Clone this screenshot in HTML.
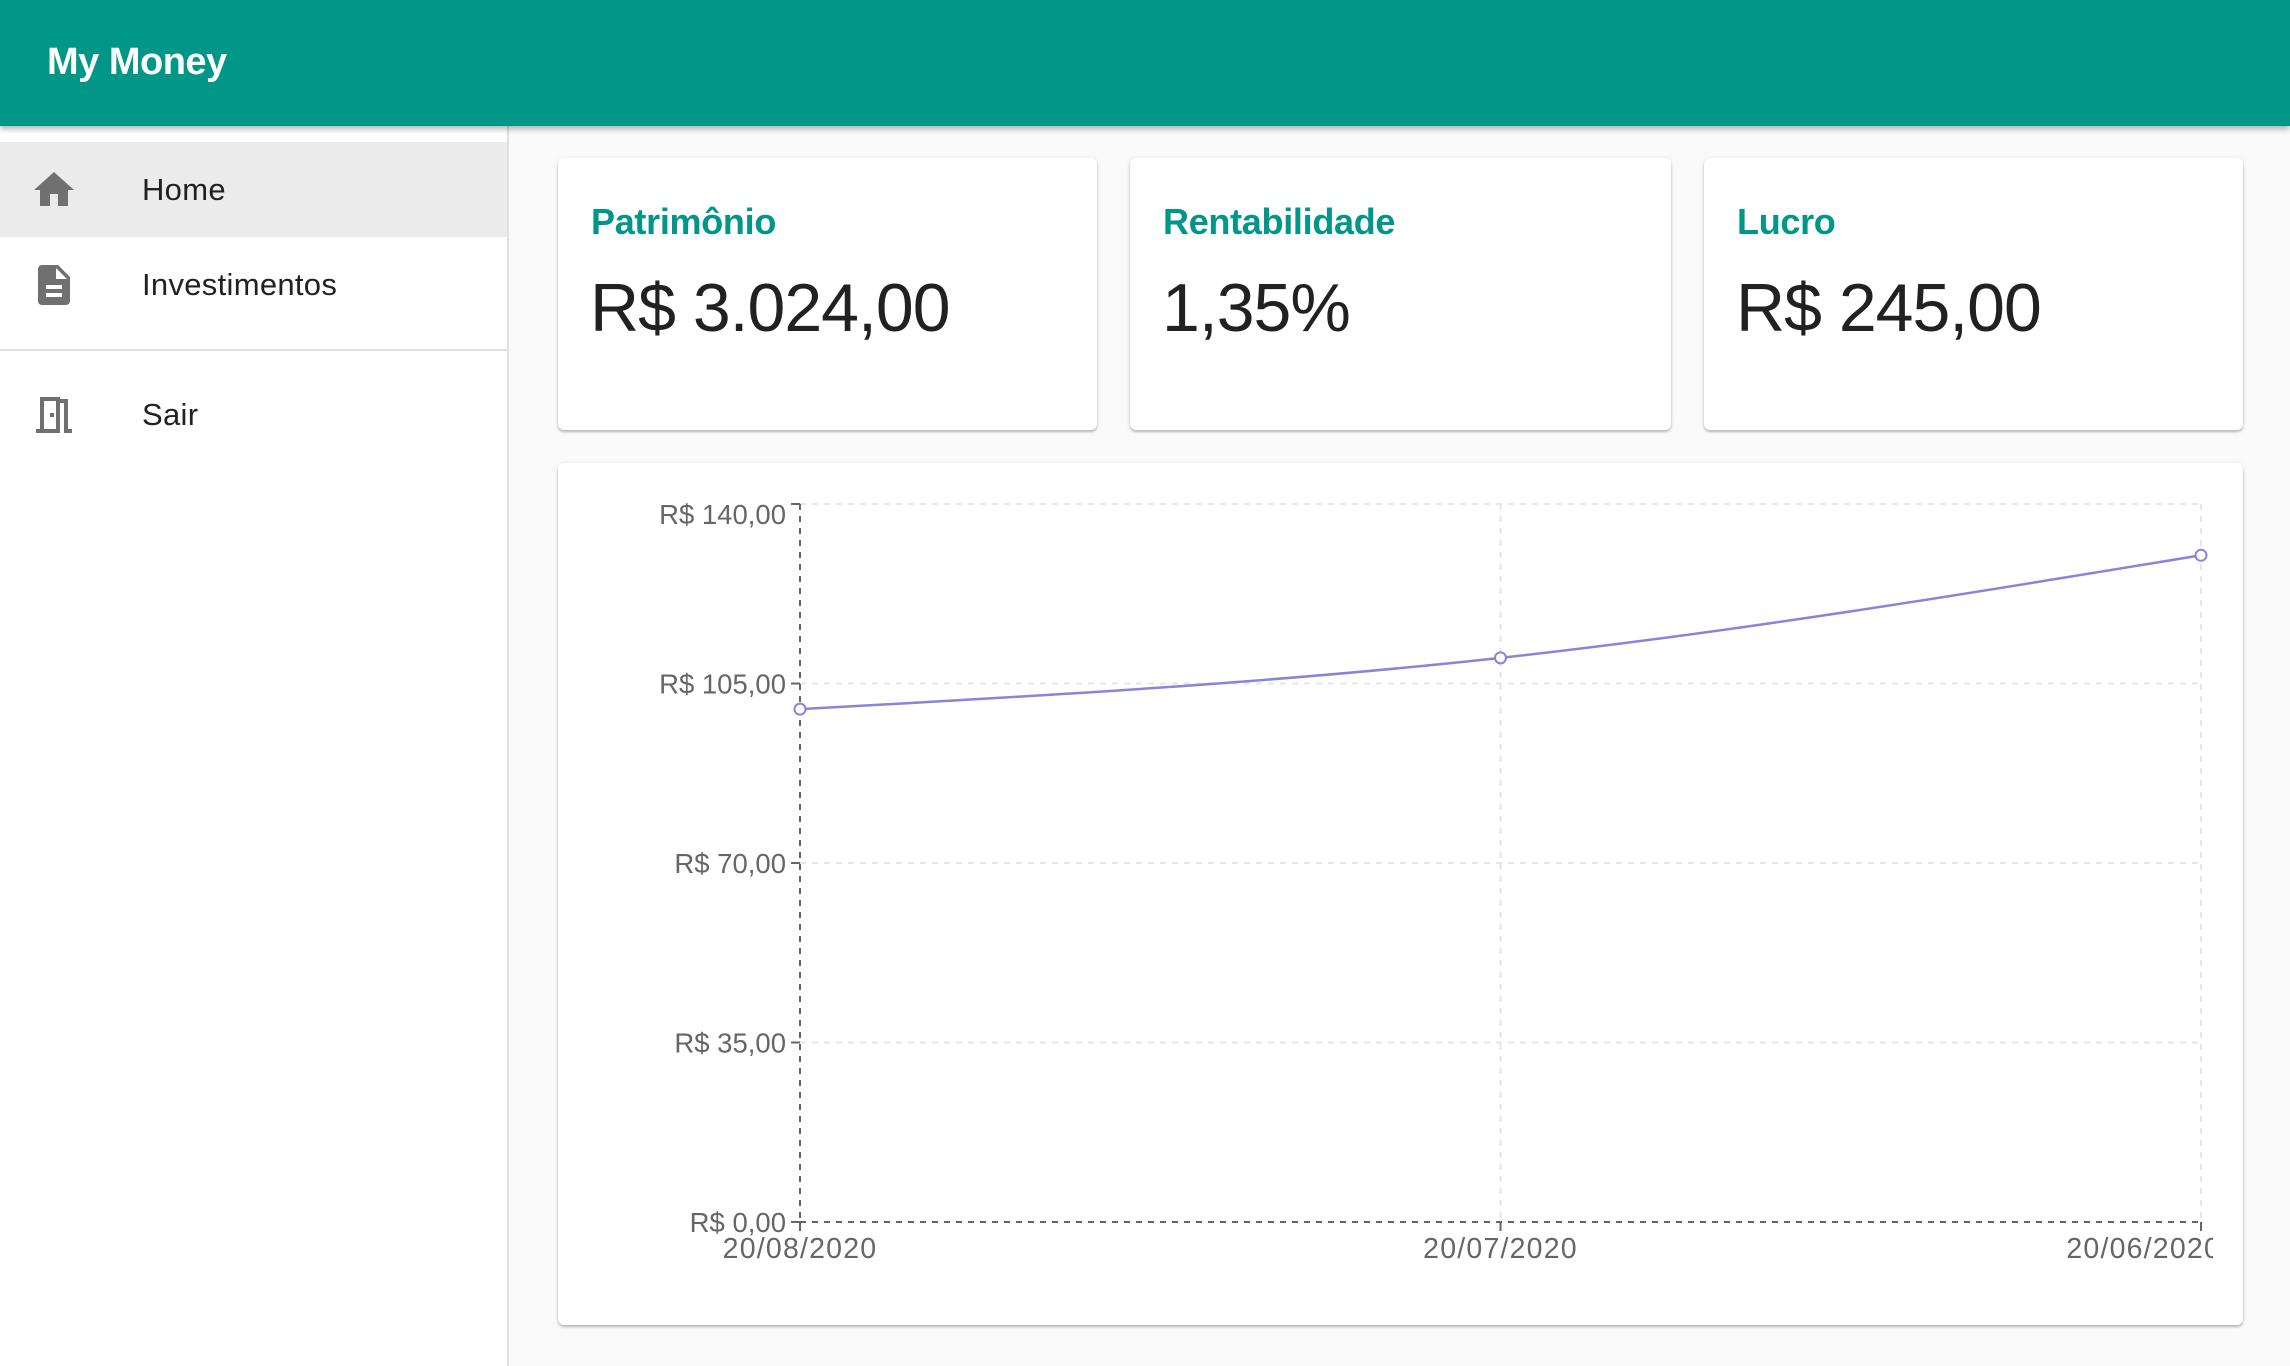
<!DOCTYPE html>
<html><head><meta charset="utf-8"><style>
*{margin:0;padding:0;box-sizing:border-box}
body{width:2290px;height:1366px;background:#fafafa;font-family:"Liberation Sans",Arial,sans-serif;position:relative;overflow:hidden}
.hdr{position:absolute;left:0;top:0;width:2290px;height:126px;background:#009688;box-shadow:0 3px 6px rgba(0,0,0,.3);z-index:3}
.hdr h1{position:absolute;left:47px;top:41px;font-size:38px;font-weight:bold;color:#fff;letter-spacing:-0.5px}
.side{position:absolute;left:0;top:126px;width:509px;height:1240px;background:#fff;border-right:2px solid #e0e0e0}
.item{position:absolute;left:0;width:507px;height:95px}
.item span{position:absolute;left:142px;top:30px;font-size:31px;color:#212121;letter-spacing:0.3px}
.item svg{position:absolute;left:30px;top:24px}
.card{position:absolute;background:#fff;border-radius:6px;box-shadow:0 2px 2px rgba(0,0,0,.2),0 1px 5px rgba(0,0,0,.12)}
.card .t{position:absolute;left:33px;top:43px;font-size:36px;font-weight:bold;color:#009688;letter-spacing:-0.3px}
.card .v{position:absolute;left:32px;top:111px;font-size:68px;color:#212121;letter-spacing:-1px}
</style></head><body>
<div class="hdr"><h1>My Money</h1></div>
<div class="side">
 <div class="item" style="top:16px;background:#ebebeb">
  <svg width="48" height="48" viewBox="0 0 24 24"><path d="M10 20v-6h4v6h5v-8h3L12 3 2 12h3v8z" fill="#707070"/></svg><span>Home</span></div>
 <div class="item" style="top:111px">
  <svg width="48" height="48" viewBox="0 0 24 24"><path d="M14 2H6c-1.1 0-2 .9-2 2v16c0 1.1.9 2 2 2h12c1.1 0 2-.9 2-2V8l-6-6zm2 16H8v-2h8v2zm0-4H8v-2h8v2zm-3-5V3.5L18.5 9H13z" fill="#707070"/></svg><span>Investimentos</span></div>
 <div style="position:absolute;left:0;top:223px;width:507px;height:2px;background:#e0e0e0"></div>
 <div class="item" style="top:241px">
  <svg width="48" height="48" viewBox="0 0 24 24"><path d="M19 19V4h-4V3H5v16H3v2h12V6h2v15h4v-2h-2zm-6 0H7V5h6v14zm-3-8h2v2h-2z" fill="#707070"/></svg><span>Sair</span></div>
</div>
<div class="card" style="left:558px;top:158px;width:539px;height:272px"><div class="t">Patrimônio</div><div class="v">R$ 3.024,00</div></div>
<div class="card" style="left:1130px;top:158px;width:541px;height:272px"><div class="t">Rentabilidade</div><div class="v">1,35%</div></div>
<div class="card" style="left:1704px;top:158px;width:539px;height:272px"><div class="t">Lucro</div><div class="v">R$ 245,00</div></div>
<div class="card" style="left:558px;top:463px;width:1685px;height:862px">
<svg id="chart" width="1655" height="862" style="position:absolute;left:0;top:0"></svg>
</div>
<script>
const categories=["20/08/2020","20/07/2020","20/06/2020"];
const values=[100,110,130];
const yTicks=[0,35,70,105,140];
const yLabels=["R$ 0,00","R$ 35,00","R$ 70,00","R$ 105,00","R$ 140,00"];
const yMax=140;
const L=242,R=1643,T=41,B=759;
const NS="http://www.w3.org/2000/svg";
const svg=document.getElementById('chart');
const x=i=>L+(R-L)*i/(categories.length-1);
const y=v=>B-(B-T)*v/yMax;
function mk(tag,attrs,parent){const e=document.createElementNS(NS,tag);for(const k in attrs)e.setAttribute(k,attrs[k]);(parent||svg).appendChild(e);return e;}
yTicks.forEach((t,i)=>{if(t===0)return;const g=mk('line',{x1:L,x2:R,y1:y(t),y2:y(t),stroke:'#e6e6e6','stroke-width':2,'stroke-dasharray':'6 6'});

});
categories.forEach((c,i)=>{if(i===0)return;const g=mk('line',{x1:x(i),x2:x(i),y1:T,y2:B,stroke:'#e6e6e6','stroke-width':2,'stroke-dasharray':'6 6'});

});
const ya=mk('line',{x1:L,x2:L,y1:T,y2:B,stroke:'#666','stroke-width':2,'stroke-dasharray':'6 6'});


const xa=mk('line',{x1:L,x2:R,y1:B,y2:B,stroke:'#666','stroke-width':2,'stroke-dasharray':'6 6'});


yTicks.forEach((t,i)=>{mk('line',{x1:L-9,x2:L,y1:y(t),y2:y(t),stroke:'#666','stroke-width':2});
const ty=(i===yTicks.length-1)?y(t)+20:y(t)+10;
const tx=mk('text',{x:L-14,y:ty,'text-anchor':'end','font-size':27.5,fill:'#666','font-family':'Liberation Sans, Arial, sans-serif'});tx.textContent=yLabels[i];

});
categories.forEach((c,i)=>{mk('line',{x1:x(i),x2:x(i),y1:B,y2:B+9,stroke:'#666','stroke-width':2});
const last=i===categories.length-1;
const tx=mk('text',{x:last?x(i)+20:x(i),y:B+36,'text-anchor':last?'end':'middle','font-size':28.5,'letter-spacing':1.2,fill:'#666','font-family':'Liberation Sans, Arial, sans-serif'});tx.textContent=c;

});
const px=values.map((v,i)=>x(i)),py=values.map(v=>y(v));
const n=px.length,d=[],m=[];
for(let i=0;i<n-1;i++)d.push((py[i+1]-py[i])/(px[i+1]-px[i]));
for(let i=0;i<n;i++){if(i===0)m.push(d[0]);else if(i===n-1)m.push(d[n-2]);else m.push(d[i-1]*d[i]<=0?0:(d[i-1]+d[i])/2);}
if(n>2){m[0]=(3*d[0]-m[1])/2;m[n-1]=(3*d[n-2]-m[n-2])/2;}
let p='M'+px[0]+','+py[0];
for(let i=0;i<n-1;i++){const h=(px[i+1]-px[i])/3;p+=' C'+(px[i]+h)+','+(py[i]+m[i]*h)+' '+(px[i+1]-h)+','+(py[i+1]-m[i+1]*h)+' '+px[i+1]+','+py[i+1];}
const ln=mk('path',{d:p,fill:'none',stroke:'#8884d8','stroke-width':2.5});


values.forEach((v,i)=>{const c=mk('circle',{cx:x(i),cy:y(v),r:5.5,fill:'#fff',stroke:'#8884d8','stroke-width':2});

});
</script>
</body></html>
